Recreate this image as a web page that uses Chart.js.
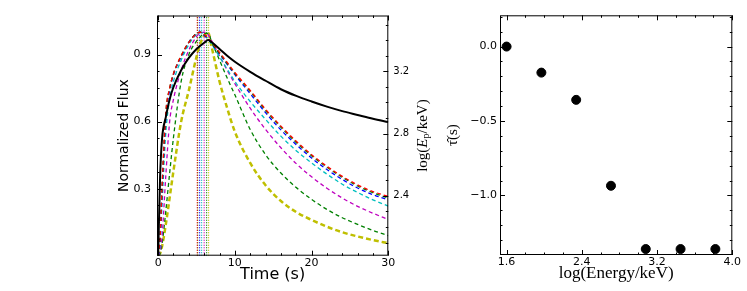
<!DOCTYPE html>
<html>
<head>
<meta charset="utf-8">
<script src="https://cdn.jsdelivr.net/npm/chart.js@4.4.0/dist/chart.umd.min.js"></script>
<style>
  html, body { margin: 0; padding: 0; background: #fff; }
  #wrap { position: relative; width: 747px; height: 291px; }
  #fluxChart { position: absolute; left: 113px; top: 0; }
  #lagChart { position: absolute; left: 440px; top: 0; }
</style>
</head>
<body>
<div id="wrap">
  <canvas id="fluxChart" width="327" height="291"></canvas>
  <canvas id="lagChart" width="307" height="291"></canvas>
</div>
<script>
// ---- left panel: normalised light curves ----
const times = [0, 0.25, 0.5, 1, 1.5, 2, 3, 4, 5, 5.5, 6, 6.5, 7, 8, 9, 10, 12, 14, 16, 18, 20, 22, 24, 26, 28, 30];

const fluxBlack   = [0, 0.35, 0.52, 0.62, 0.70, 0.755, 0.83, 0.885, 0.925, 0.94, 0.953, 0.965, 0.955, 0.925, 0.895, 0.868, 0.823, 0.783, 0.745, 0.715, 0.69, 0.667, 0.647, 0.63, 0.613, 0.598];
const fluxRed     = [0, 0.08, 0.30, 0.64, 0.75, 0.815, 0.895, 0.955, 0.993, 1.0, 0.99, 0.975, 0.955, 0.91, 0.865, 0.82, 0.74, 0.655, 0.58, 0.512, 0.452, 0.40, 0.355, 0.317, 0.287, 0.265];
const fluxGreen1  = [0, 0.08, 0.30, 0.64, 0.75, 0.815, 0.895, 0.955, 0.995, 1.0, 0.99, 0.972, 0.95, 0.905, 0.86, 0.815, 0.735, 0.65, 0.575, 0.507, 0.447, 0.396, 0.351, 0.312, 0.282, 0.258];
const fluxBlue    = [0, 0.07, 0.28, 0.62, 0.74, 0.81, 0.89, 0.955, 0.995, 1.0, 0.985, 0.97, 0.948, 0.903, 0.856, 0.81, 0.725, 0.64, 0.563, 0.497, 0.437, 0.386, 0.341, 0.303, 0.273, 0.25];
const fluxCyan    = [0, 0.05, 0.22, 0.55, 0.70, 0.78, 0.875, 0.945, 0.99, 1.0, 0.99, 0.97, 0.945, 0.89, 0.835, 0.78, 0.69, 0.61, 0.535, 0.47, 0.415, 0.365, 0.32, 0.283, 0.25, 0.222];
const fluxMagenta = [0, 0.02, 0.08, 0.36, 0.60, 0.70, 0.83, 0.92, 0.98, 0.997, 1.0, 0.99, 0.96, 0.895, 0.83, 0.77, 0.66, 0.565, 0.483, 0.412, 0.353, 0.302, 0.258, 0.221, 0.19, 0.162];
const fluxGreen2  = [0, 0.01, 0.05, 0.20, 0.37, 0.53, 0.78, 0.90, 0.96, 0.98, 0.995, 0.995, 0.955, 0.875, 0.795, 0.72, 0.565, 0.452, 0.37, 0.305, 0.252, 0.207, 0.17, 0.14, 0.113, 0.09];
const fluxYellow  = [0, 0.01, 0.04, 0.14, 0.26, 0.38, 0.60, 0.74, 0.89, 0.95, 0.985, 1.0, 0.93, 0.78, 0.66, 0.555, 0.415, 0.315, 0.245, 0.195, 0.16, 0.13, 0.105, 0.086, 0.07, 0.056];

// peak times (vertical dotted markers), same order as the dashed curves
const peakTimes = [5.1, 5.14, 5.4, 5.66, 6.0, 6.31, 6.57];

const timeTicks = [0, 10, 20, 30];
const timeMinor = [2, 4, 6, 8, 12, 14, 16, 18, 22, 24, 26, 28];
const fluxTicks = [0.3, 0.6, 0.9];
const fluxMinor = [0.075, 0.15, 0.225, 0.375, 0.45, 0.525, 0.675, 0.75, 0.825, 0.975, 1.05];
const epTicks = [2.4, 2.8, 3.2];
const epMinor = [2.1, 2.2, 2.3, 2.5, 2.6, 2.7, 2.9, 3.0, 3.1, 3.3, 3.4, 3.5];

// ---- right panel: lag vs energy ----
const logEnergy = [1.6, 1.97, 2.34, 2.71, 3.08, 3.45, 3.82];
const lagTau = [0.0, -0.175, -0.358, -0.935, -1.36, -1.36, -1.36];

const energyTicks = [1.6, 2.4, 3.2, 4.0];
const energyMinor = [1.8, 2.0, 2.2, 2.6, 2.8, 3.0, 3.4, 3.6, 3.8];
const lagTicks = [0.0, -0.5, -1.0];
const lagMinor = [0.2, 0.1, -0.1, -0.2, -0.3, -0.4, -0.6, -0.7, -0.8, -0.9, -1.1, -1.2, -1.3];

const FLUX_MAX = 1.075;

// inward ticks + frame, drawn through the chart's own scales
function innerTicks(spec) {
  return {
    id: 'innerTicks',
    afterDraw(chart) {
      const ctx = chart.ctx, a = chart.chartArea;
      ctx.save();
      ctx.strokeStyle = '#000';
      ctx.lineWidth = 1;
      ctx.strokeRect(a.left + 0.5, a.top + 0.5, a.right - a.left - 1, a.bottom - a.top - 1);
      spec.forEach(s => {
        const sc = chart.scales[s.id];
        const draw = (vals, len) => vals.forEach(v => {
          const p = Math.round(sc.getPixelForValue(v)) + 0.5;
          ctx.beginPath();
          s.sides.forEach(side => {
            if (side === 'bottom') { ctx.moveTo(p, a.bottom); ctx.lineTo(p, a.bottom - len); }
            if (side === 'top') { ctx.moveTo(p, a.top); ctx.lineTo(p, a.top + len); }
            if (side === 'left') { ctx.moveTo(a.left, p); ctx.lineTo(a.left + len, p); }
            if (side === 'right') { ctx.moveTo(a.right, p); ctx.lineTo(a.right - len, p); }
          });
          ctx.stroke();
        });
        draw(s.major, 5);
        draw(s.minor, 2.5);
      });
      ctx.restore();
    }
  };
}

// right-hand axis title log(E_p/keV), reading bottom to top
const epTitle = {
  id: 'epTitle',
  afterDraw(chart) {
    const ctx = chart.ctx, a = chart.chartArea;
    const parts = [
      { t: 'log(', f: '15px "Liberation Serif"', dy: 0 },
      { t: 'E', f: 'italic 15px "Liberation Serif"', dy: 0 },
      { t: 'p', f: '10px "Liberation Serif"', dy: 3 },
      { t: '/keV)', f: '15px "Liberation Serif"', dy: 0 }
    ];
    ctx.save();
    let w = 0;
    parts.forEach(p => { ctx.font = p.f; p.w = ctx.measureText(p.t).width; w += p.w; });
    ctx.translate(chart.width - 17, (a.top + a.bottom) / 2);
    ctx.rotate(-Math.PI / 2);
    ctx.fillStyle = '#000';
    ctx.textBaseline = 'middle';
    let x = -w / 2;
    parts.forEach(p => { ctx.font = p.f; ctx.fillText(p.t, x, p.dy); x += p.w; });
    ctx.restore();
  }
};

const tickFont = { family: 'DejaVu Sans', size: 11 };
const setTicks = vals => scale => { scale.ticks = vals.map(v => ({ value: v })); };
const fmt1 = v => (v < 0 ? '\u2212' : '') + Math.abs(v).toFixed(1);

const toPts = ys => times.map((t, i) => ({ x: t, y: ys[i] }));
const dashed = (ys, color, width, dash) => ({
  data: toPts(ys), borderColor: color, borderWidth: width || 1.3, borderDash: dash || [4, 3],
  pointRadius: 0, fill: false, cubicInterpolationMode: 'monotone', yAxisID: 'y'
});

const curveColors = ['#ff0000', '#008000', '#0000ff', '#00bfbf', '#bf00bf', '#008000', '#bfbf00'];

const datasets = [
  { data: toPts(fluxBlack), borderColor: '#000', borderWidth: 2, pointRadius: 0, fill: false,
    cubicInterpolationMode: 'monotone', yAxisID: 'y' },
  dashed(fluxRed, curveColors[0]),
  dashed(fluxGreen1, curveColors[1]),
  dashed(fluxBlue, curveColors[2]),
  dashed(fluxCyan, curveColors[3]),
  dashed(fluxMagenta, curveColors[4]),
  dashed(fluxGreen2, curveColors[5]),
  dashed(fluxYellow, curveColors[6], 2.5, [5, 3])
];
peakTimes.forEach((t, i) => {
  datasets.push({
    data: [{ x: t, y: 0 }, { x: t, y: FLUX_MAX }], borderColor: curveColors[i], borderWidth: 1.2,
    borderDash: [1, 1.5], pointRadius: 0, fill: false, yAxisID: 'y'
  });
});

new Chart(document.getElementById('fluxChart'), {
  type: 'line',
  data: { datasets },
  options: {
    responsive: false,
    animation: false,
    layout: { padding: { top: 15.5, right: 0, bottom: 0, left: 0 } },
    plugins: { legend: { display: false }, tooltip: { enabled: false } },
    scales: {
      x: {
        type: 'linear', min: -0.15, max: 30,
        afterBuildTicks: setTicks(timeTicks),
        afterFit: s => { s.height = 35.3; },
        grid: { display: false, drawTicks: false },
        border: { display: false },
        ticks: { font: tickFont, color: '#000', padding: 1, maxRotation: 0, callback: v => String(v) },
        title: { display: true, text: 'Time (s)', color: '#000',
          font: { family: 'DejaVu Sans', size: 16 }, padding: { top: 0, bottom: 7 } }
      },
      y: {
        position: 'left', min: 0, max: FLUX_MAX,
        afterBuildTicks: setTicks(fluxTicks),
        afterFit: s => { s.width = 44; },
        grid: { display: false, drawTicks: false },
        border: { display: false },
        ticks: { font: tickFont, color: '#000', padding: 6, callback: v => v.toFixed(1) },
        title: { display: true, text: 'Normalized Flux', color: '#000',
          font: { family: 'DejaVu Sans', size: 14 }, padding: { top: 3, bottom: 0 } }
      },
      ep: {
        position: 'right', min: 2.016, max: 3.558,
        afterBuildTicks: setTicks(epTicks),
        afterFit: s => { s.width = 51.7; },
        grid: { display: false, drawTicks: false },
        border: { display: false },
        ticks: { font: { family: 'DejaVu Sans', size: 10 }, color: '#000', padding: 5, callback: v => v.toFixed(1) }
      }
    }
  },
  plugins: [
    innerTicks([
      { id: 'x', major: timeTicks, minor: timeMinor, sides: ['bottom', 'top'] },
      { id: 'y', major: fluxTicks, minor: fluxMinor, sides: ['left'] },
      { id: 'ep', major: epTicks, minor: epMinor, sides: ['right'] }
    ]),
    epTitle
  ]
});

new Chart(document.getElementById('lagChart'), {
  type: 'scatter',
  data: {
    datasets: [{
      data: logEnergy.map((e, i) => ({ x: e, y: lagTau[i] })),
      backgroundColor: '#000', borderColor: '#000', pointRadius: 4.5, pointHoverRadius: 4.5
    }]
  },
  options: {
    responsive: false,
    animation: false,
    layout: { padding: { top: 15.3, right: 14.7, bottom: 0, left: 0 } },
    plugins: { legend: { display: false }, tooltip: { enabled: false } },
    scales: {
      x: {
        type: 'linear', min: 1.53, max: 4.0,
        afterBuildTicks: setTicks(energyTicks),
        afterFit: s => { s.height = 36; },
        grid: { display: false, drawTicks: false },
        border: { display: false },
        ticks: { font: tickFont, color: '#000', padding: 1, maxRotation: 0, callback: v => v.toFixed(1) },
        title: { display: true, text: 'log(Energy/keV)', color: '#000',
          font: { family: 'Liberation Serif', size: 17 }, padding: { top: 0, bottom: 7 } }
      },
      y: {
        min: -1.40, max: 0.21,
        afterBuildTicks: setTicks(lagTicks),
        afterFit: s => { s.width = 60; },
        grid: { display: false, drawTicks: false },
        border: { display: false },
        ticks: { font: tickFont, color: '#000', padding: 3, callback: fmt1 },
        title: { display: true, text: 'τ\u0302(s)', color: '#000',
          font: { family: 'Liberation Serif', size: 15 }, padding: { top: 4, bottom: 0 } }
      }
    }
  },
  plugins: [
    innerTicks([
      { id: 'x', major: energyTicks, minor: energyMinor, sides: ['bottom', 'top'] },
      { id: 'y', major: lagTicks, minor: lagMinor, sides: ['left', 'right'] }
    ])
  ]
});
</script>
</body>
</html>
